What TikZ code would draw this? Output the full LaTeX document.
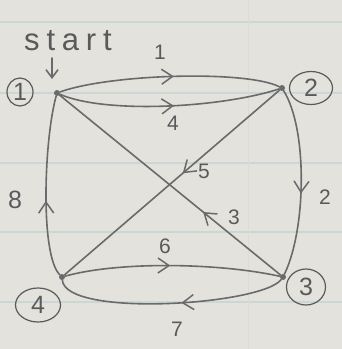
\documentclass[tikz,border=0pt]{standalone}
\usepackage{fontspec}
\setmainfont{Liberation Sans}
\usetikzlibrary{arrows.meta,decorations.markings,shapes.geometric}
\definecolor{paper}{HTML}{E4E2DD}
\definecolor{rulecol}{HTML}{CCD7D5}
\definecolor{pencil}{HTML}{6A6A6A}
\definecolor{ink}{HTML}{5A5A5A}
\begin{document}
\begin{tikzpicture}[x=1pt,y=-1pt,
  edge/.style={draw=pencil, line width=1.6pt, line cap=round},
  midarr/.style={postaction={decorate}, decoration={markings,
     mark=at position #1 with {\arrow[pencil,line width=1.5pt]{Straight Barb[length=11pt,width=15pt]}}}},
  vert/.style={circle, fill=pencil, inner sep=0pt, minimum size=6pt},
  lab/.style={ellipse, draw=ink, line width=1.2pt, text=ink, inner sep=0pt, font=\fontsize{25}{25}\selectfont},
  wt/.style={text=ink, font=\fontsize{21}{21}\selectfont, inner sep=0pt}
]
\useasboundingbox (0,0) rectangle (342,349);
\fill[paper] (0,0) rectangle (342,349);
\foreach \yy in {22,93,163,232,302}
  \draw[rulecol, line width=1.6pt] (0,\yy) -- (342,\yy);
\draw[rulecol!50!paper, line width=1pt] (248,0) -- (248,349);

% vertices
\node[vert] (v1) at (57,93) {};
\node[vert] (v2) at (282,88) {};
\node[vert] (v3) at (283,277) {};
\node[vert] (v4) at (62,277) {};

% circled labels
\node[lab, minimum width=26pt, minimum height=28pt] (l1) at (20,92) {1};
\node[lab, minimum width=43pt, minimum height=33pt] (l2) at (311,88) {2};
\node[lab, minimum width=39pt, minimum height=36pt] (l3) at (306,287) {3};
\node[lab, minimum width=45pt, minimum height=34pt] (l4) at (38,305) {4};

% start
\node[text=ink, inner sep=0pt, font=\fontsize{31}{31}\selectfont\addfontfeatures{LetterSpace=22}] (start) at (68,41) {start};
\coordinate (sa) at (52,58);
\coordinate (sb) at (52,79);
\draw[edge, -{Straight Barb[length=8pt,width=12pt]}] (sa) -- (sb);

% edges
\draw[edge, midarr=0.52] (v1) .. controls (110,74) and (245,70) .. (v2);
\draw[edge, midarr=0.52] (v1) .. controls (105,114) and (220,108) .. (v2);
\draw[edge, midarr=0.45] (v2) -- (v4);
\draw[edge, midarr=0.35] (v3) -- (v1);
\draw[edge, midarr=0.56] (v2) .. controls (308,130) and (306,230) .. (v3);
\draw[edge, midarr=0.42] (v4) .. controls (40,255) and (44,140) .. (v1);
\draw[edge, midarr=0.49] (v4) .. controls (120,261) and (220,263) .. (v3);
\draw[edge, midarr=0.45] (v3) .. controls (262,305) and (66,318) .. (v4);

% weights
\node[wt] (w1) at (160,52) {1};
\node[wt] (w4) at (173,123) {4};
\node[wt] (w5) at (204,171) {5};
\node[wt] (w3) at (234,217) {3};
\node[wt] (w2) at (325,197) {2};
\node[wt, font=\fontsize{25}{25}\selectfont] (w8) at (15,200) {8};
\node[wt] (w6) at (165,246) {6};
\node[wt] (w7) at (177,329) {7};
\end{tikzpicture}
\end{document}
